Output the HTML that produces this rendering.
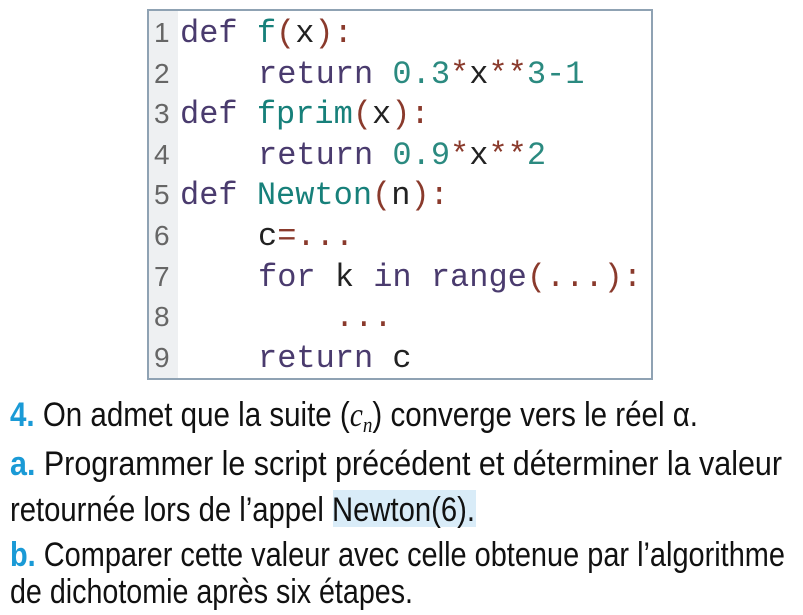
<!DOCTYPE html>
<html><head><meta charset="utf-8"><style>
html,body{margin:0;padding:0;background:#fff;width:803px;height:615px;overflow:hidden}
svg{display:block}
.m{font-family:"Liberation Mono",monospace;font-size:32px}
.n{font-family:"Liberation Sans",sans-serif;font-size:28px;fill:#666}
.t{font-family:"Liberation Sans",sans-serif;font-size:34px;fill:#111}
.k{fill:#4a3b6e}.f{fill:#17807a}.p{fill:#8a3a2c}.d{fill:#2b8a80}.x{fill:#222}
.b{fill:#1a9ad6;font-weight:bold}
</style></head><body>
<svg width="803" height="615" viewBox="0 0 803 615" xmlns="http://www.w3.org/2000/svg">
<rect x="148" y="10" width="30" height="369" fill="#eef0f2"/>
<rect x="148" y="10" width="504" height="369" fill="none" stroke="#8fa2b3" stroke-width="2"/>
<g class="n">
<text x="154" y="42">1</text><text x="154" y="83">2</text><text x="154" y="123">3</text>
<text x="154" y="164">4</text><text x="154" y="204">5</text><text x="154" y="245">6</text>
<text x="154" y="286">7</text><text x="154" y="326">8</text><text x="154" y="367">9</text>
</g>
<g class="m" xml:space="preserve">
<text x="180" y="42"><tspan class="k">def </tspan><tspan class="f">f</tspan><tspan class="p">(</tspan><tspan class="x">x</tspan><tspan class="p">):</tspan></text>
<text x="258" y="83"><tspan class="k">return </tspan><tspan class="d">0.3</tspan><tspan class="p">*</tspan><tspan class="x">x</tspan><tspan class="p">**</tspan><tspan class="d">3-1</tspan></text>
<text x="180" y="123"><tspan class="k">def </tspan><tspan class="f">fprim</tspan><tspan class="p">(</tspan><tspan class="x">x</tspan><tspan class="p">):</tspan></text>
<text x="258" y="164"><tspan class="k">return </tspan><tspan class="d">0.9</tspan><tspan class="p">*</tspan><tspan class="x">x</tspan><tspan class="p">**</tspan><tspan class="d">2</tspan></text>
<text x="180" y="204"><tspan class="k">def </tspan><tspan class="f">Newton</tspan><tspan class="p">(</tspan><tspan class="x">n</tspan><tspan class="p">):</tspan></text>
<text x="258" y="245"><tspan class="x">c</tspan><tspan class="p">=...</tspan></text>
<text x="258" y="286"><tspan class="k">for </tspan><tspan class="x">k </tspan><tspan class="k">in range</tspan><tspan class="p">(...):</tspan></text>
<text x="335" y="326"><tspan class="p">...</tspan></text>
<text x="258" y="367"><tspan class="k">return </tspan><tspan class="x">c</tspan></text>
</g>
<rect x="333" y="490" width="143" height="37" fill="#d9ecf8"/>
<text class="t" x="10" y="426" textLength="688" lengthAdjust="spacingAndGlyphs"><tspan class="b">4.</tspan> On admet que la suite (<tspan font-family="Liberation Serif" font-style="italic">c</tspan><tspan font-family="Liberation Serif" font-style="italic" font-size="22" dy="6">n</tspan><tspan dy="-6">) converge vers le réel α.</tspan></text>
<text class="t" x="10" y="475" textLength="772" lengthAdjust="spacingAndGlyphs"><tspan class="b">a.</tspan> Programmer le script précédent et déterminer la valeur</text>
<text class="t" x="10" y="521" textLength="465" lengthAdjust="spacingAndGlyphs">retournée lors de l’appel Newton(6).</text>
<text class="t" x="10" y="566" textLength="775" lengthAdjust="spacingAndGlyphs"><tspan class="b">b.</tspan> Comparer cette valeur avec celle obtenue par l’algorithme</text>
<text class="t" x="10" y="603" textLength="403" lengthAdjust="spacingAndGlyphs">de dichotomie après six étapes.</text>
</svg>
</body></html>
